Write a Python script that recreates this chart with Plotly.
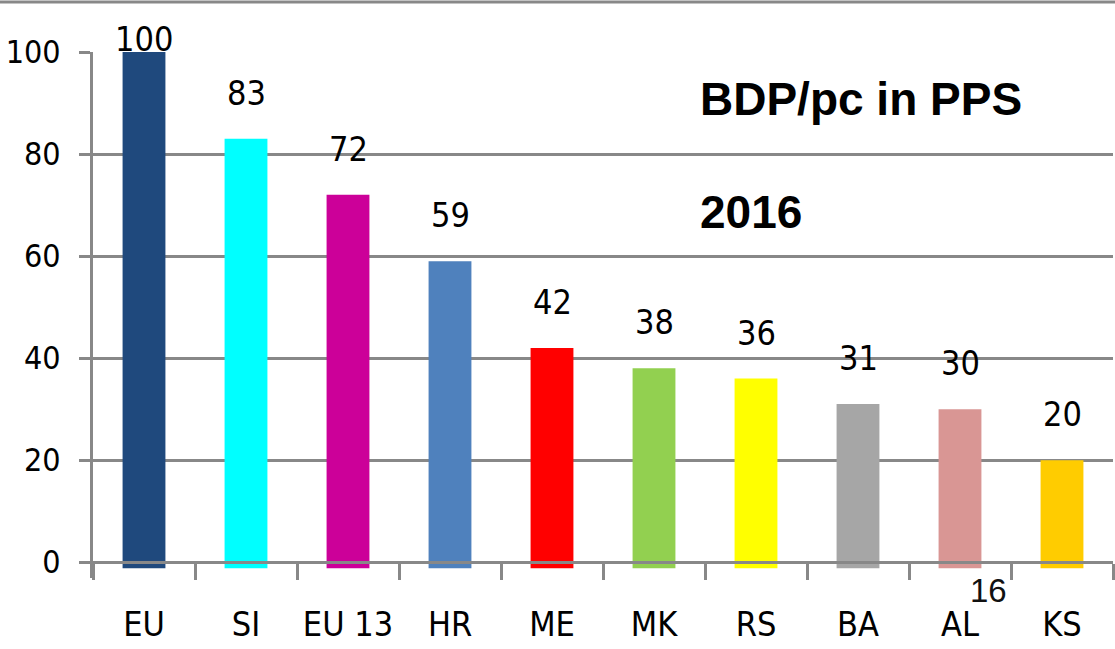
import plotly.graph_objects as go

categories = ["EU", "SI", "EU 13", "HR", "ME", "MK", "RS", "BA", "AL", "KS"]
values = [100, 83, 72, 59, 42, 38, 36, 31, 30, 20]
colors = ["#1F497D", "#00FFFF", "#CC0099", "#4F81BD", "#FF0000",
          "#92D050", "#FFFF00", "#A6A6A6", "#D99694", "#FFCC00"]
title_text = "BDP/pc in PPS"
year_text = "2016"
page_number = "16"
y_ticks = [0, 20, 40, 60, 80, 100]

W, H = 1115, 649
ML, MR, MT, MB = 93, 2, 52, 71
PW, PH = W - ML - MR, H - MT - MB
Y_MIN, Y_MAX = -3.1, 100
BASE_OFF = 1.2  # bars extend slightly below the zero line

def px_x(px):
    return (px - ML) / PW

def px_y(py):
    return (H - MB - py) / PH

def narrow(s):
    return '<span style="font-stretch:condensed;font-family:DejaVu Sans Condensed, DejaVu Sans">' + s + '</span>'

NARROW = "DejaVu Sans Condensed, DejaVu Sans, sans-serif"
GRID = "#888888"

fig = go.Figure()
fig.add_trace(go.Bar(
    x=categories,
    y=[v + BASE_OFF for v in values],
    base=-BASE_OFF,
    marker=dict(color=colors, line=dict(width=0)),
    width=0.42,
    hoverinfo="skip",
))

label_shift = [-9 if v >= 100 else 24 for v in values]
annotations = []
for c, v, s in zip(categories, values, label_shift):
    annotations.append(dict(
        x=c, y=v, xref="x", yref="y", text=narrow(str(v)), showarrow=False,
        yanchor="bottom", xanchor="center", yshift=s,
        font=dict(family=NARROW, size=34, color="#000000"),
    ))

annotations += [
    dict(x=px_x(698), y=px_y(99), xref="paper", yref="paper", text=title_text,
         showarrow=False, xanchor="left", yanchor="middle",
         font=dict(family="Liberation Sans, Arial, sans-serif", size=46, color="#000000", weight="bold")),
    dict(x=px_x(698), y=px_y(212), xref="paper", yref="paper", text=year_text,
         showarrow=False, xanchor="left", yanchor="middle",
         font=dict(family="Liberation Sans, Arial, sans-serif", size=46, color="#000000", weight="bold")),
    dict(x=px_x(988), y=px_y(590), xref="paper", yref="paper", text=page_number,
         showarrow=False, xanchor="center", yanchor="middle",
         font=dict(family="Liberation Sans, Arial, sans-serif", size=33, color="#111111")),
]

shapes = [
    dict(type="line", xref="paper", yref="paper",
         x0=px_x(0), x1=px_x(W), y0=px_y(2), y1=px_y(2),
         line=dict(color=GRID, width=3)),
]

fig.update_layout(
    width=W, height=H,
    margin=dict(l=ML, r=MR, t=MT, b=MB, pad=0),
    paper_bgcolor="#FFFFFF", plot_bgcolor="#FFFFFF",
    showlegend=False,
    annotations=annotations,
    shapes=shapes,
    xaxis=dict(
        type="category",
        anchor="free",
        position=(0 - Y_MIN) / (Y_MAX - Y_MIN),
        automargin=False,
        showline=True, linecolor=GRID, linewidth=3,
        ticks="outside", ticklen=16, tickwidth=3, tickcolor=GRID,
        tickson="boundaries",
        tickvals=categories,
        ticktext=[narrow(c) for c in categories],
        tickangle=0,
        showgrid=False,
        ticklabelstandoff=31,
        tickfont=dict(family=NARROW, size=34, color="#000000"),
        range=[-0.5, len(categories) - 0.5],
    ),
    yaxis=dict(
        range=[Y_MIN, Y_MAX],
        automargin=False,
        tickvals=y_ticks,
        ticktext=[narrow(str(t)) for t in y_ticks],
        showgrid=True, gridcolor=GRID, gridwidth=3,
        zeroline=False,
        showline=True, linecolor=GRID, linewidth=3,
        ticks="outside", ticklen=11, tickwidth=3, tickcolor=GRID,
        ticklabelstandoff=12,
        tickfont=dict(family=NARROW, size=32, color="#000000"),
    ),
)

fig.write_html("out.html", config={"displayModeBar": False},
               post_script="document.body.style.margin='0';document.body.style.padding='0';")
